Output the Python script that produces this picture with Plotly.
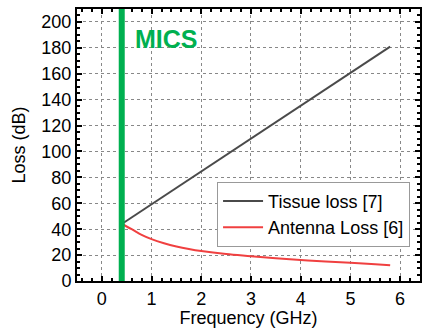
import plotly.graph_objects as go

freq_tissue = [0.4, 5.8]
loss_tissue = [44, 181]

freq_antenna = [0.4, 0.6, 0.8, 1.0, 1.25, 1.5, 1.75, 2.0, 2.5, 3.0, 3.5, 4.0, 4.5, 5.0, 5.5, 5.8]
loss_antenna = [44, 40, 35.6, 32.3, 29.2, 26.7, 24.7, 23.1, 20.8, 19.2, 17.6, 16.2, 15.1, 14.1, 12.9, 12.1]

mics_freq = 0.4
mics_label = "MICS"

font = "Liberation Sans, Arial, sans-serif"

fig = go.Figure()
fig.add_trace(go.Scatter(x=freq_tissue, y=loss_tissue, mode="lines",
                         line=dict(color="#4a4a4a", width=2), name="Tissue loss [7]"))
fig.add_trace(go.Scatter(x=freq_antenna, y=loss_antenna, mode="lines",
                         line=dict(color="#f04040", width=2, shape="spline"), name="Antenna Loss [6]"))

fig.add_shape(type="line", x0=mics_freq, x1=mics_freq, y0=0, y1=1, yref="paper", xref="x",
              line=dict(color="#00b050", width=6))
fig.add_annotation(x=0.62, y=187, xref="x", yref="y", text="<b>" + mics_label + "</b>",
                   showarrow=False, xanchor="left", font=dict(family=font, size=25, color="#00b050"))

axis_common = dict(showline=True, linecolor="black", linewidth=2, mirror="ticks",
                   ticks="inside", ticklen=5, tickwidth=2, tickcolor="black",
                   showgrid=True, gridcolor="#888888", griddash="dot", gridwidth=1,
                   zeroline=False, tickfont=dict(family=font, size=18, color="black"),
                   minor=dict(ticks="inside", ticklen=3, tickwidth=2, tickcolor="black", showgrid=False))

fig.update_xaxes(range=[-0.5, 6.4], dtick=1, tick0=0,
                 title=dict(text="Frequency (GHz)", font=dict(family=font, size=18, color="black"), standoff=1),
                 **axis_common)
fig.update_yaxes(range=[0, 210], dtick=20, tick0=0,
                 title=dict(text="Loss (dB)", font=dict(family=font, size=18, color="black"), standoff=11),
                 **axis_common)

fig.update_layout(width=424, height=328, margin=dict(l=77, r=2, t=9, b=47),
                  plot_bgcolor="white", paper_bgcolor="white", showlegend=True,
                  legend=dict(x=0.971, y=0.365, xanchor="right", yanchor="top",
                              bgcolor="white", bordercolor="#999999", borderwidth=1,
                              font=dict(family=font, size=18, color="black"),
                              tracegroupgap=0, itemwidth=40))

fig.write_html("out.html")
